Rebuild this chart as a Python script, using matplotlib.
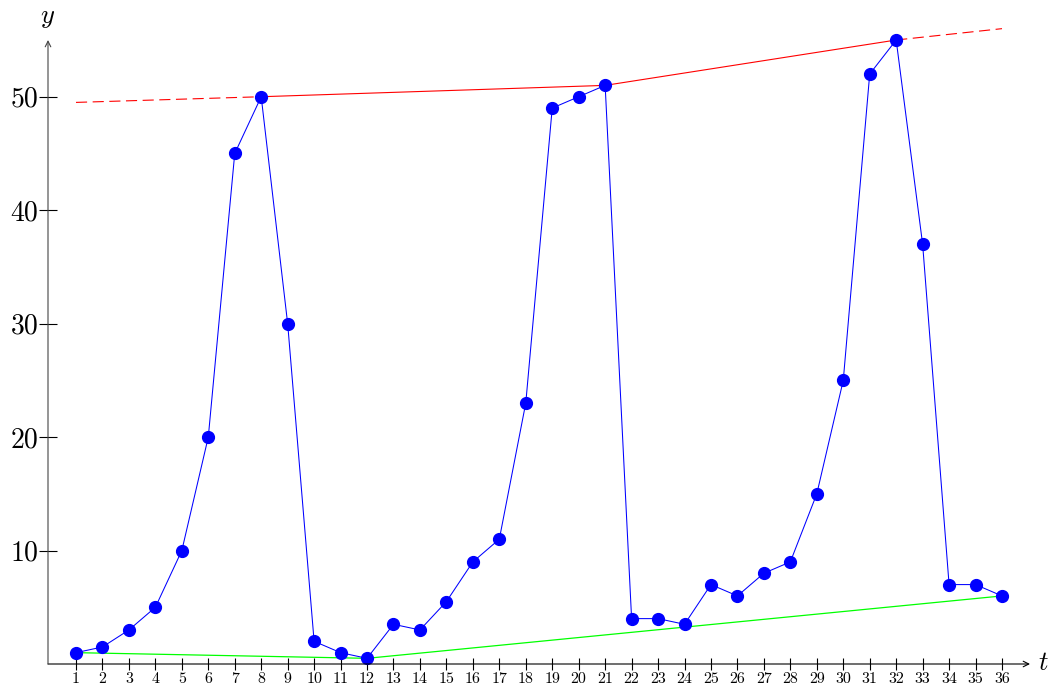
import matplotlib
matplotlib.use("Agg")
import matplotlib.pyplot as plt

plt.rcParams['font.family'] = 'serif'
plt.rcParams['font.serif'] = ['cmr10', 'DejaVu Serif']
plt.rcParams['mathtext.fontset'] = 'cm'
plt.rcParams['axes.formatter.use_mathtext'] = True

t = list(range(1, 37))
y = [1, 1.5, 3, 5, 10, 20, 45, 50, 30, 2, 1, 0.5,
     3.5, 3, 5.5, 9, 11, 23, 49, 50, 51, 4, 4, 3.5,
     7, 6, 8, 9, 15, 25, 52, 55, 37, 7, 7, 6]

upper_t = [1, 8, 21, 32, 36]
upper_y = [49.5, 50, 51, 55, 56]

lower_t = [1, 12, 36]
lower_y = [1, 0.5, 6]

y_ticks = [10, 20, 30, 40, 50]

fig = plt.figure(figsize=(10.54, 6.88), dpi=100)
ax = fig.add_axes([48/1054, 1-664/688, (1030-48)/1054, (664-40)/688])
ax.set_xlim(1 - 28/26.457, 36 + 28/26.457)
ax.set_ylim(0, 55)

# upper envelope (red)
ax.plot(upper_t[0:2], upper_y[0:2], color=(1, 0, 0), lw=0.8, ls=(0, (10, 5)), clip_on=False, zorder=2)
ax.plot(upper_t[1:4], upper_y[1:4], color=(1, 0, 0), lw=0.8, clip_on=False, zorder=2)
ax.plot(upper_t[3:5], upper_y[3:5], color=(1, 0, 0), lw=0.8, ls=(0, (10, 5)), clip_on=False, zorder=2)

# lower envelope (green)
ax.plot(lower_t, lower_y, color=(0, 1, 0), lw=0.9, clip_on=False, zorder=2)

# series
ax.plot(t, y, color=(0, 0, 1), lw=0.75, marker='o', ms=8.5, mec=(0, 0, 1), mfc=(0, 0, 1),
        clip_on=False, zorder=3)

for s in ['top', 'right', 'bottom', 'left']:
    ax.spines[s].set_visible(False)

# axis arrows
ax.annotate('', xy=(1.0, 0), xytext=(0, 0), xycoords='axes fraction', textcoords='axes fraction',
            arrowprops=dict(arrowstyle='->', lw=0.8, color='black', shrinkA=0, shrinkB=0,
                            mutation_scale=10))
ax.annotate('', xy=(0, 1.0), xytext=(0, 0), xycoords='axes fraction', textcoords='axes fraction',
            arrowprops=dict(arrowstyle='->', lw=0.8, color='#444444', shrinkA=0, shrinkB=0,
                            mutation_scale=10))

ax.set_xticks(t)
ax.set_xticklabels([str(v) for v in t], fontsize=11.5)
ax.set_yticks(y_ticks)
ax.set_yticklabels([str(v) for v in y_ticks], fontsize=20)
ax.tick_params(axis='x', direction='inout', length=9, width=0.8, pad=1.5, colors='black')
ax.tick_params(axis='y', direction='inout', length=13, width=0.8, pad=0.5, colors='black')

fig.text(48/1054, 1-18/688, r'$y$', fontsize=19, ha='center', va='center')
fig.text(1043/1054, 1-663/688, r'$t$', fontsize=19, ha='center', va='center')

fig.savefig('out.png', dpi=100)
